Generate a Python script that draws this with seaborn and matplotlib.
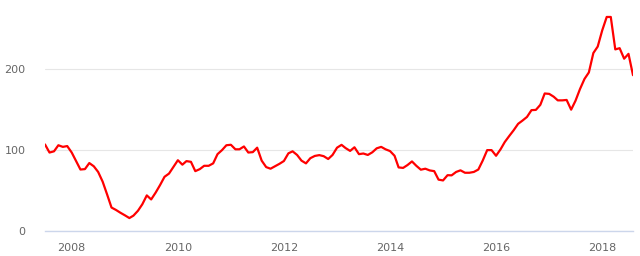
import matplotlib
matplotlib.use("Agg")
import matplotlib.pyplot as plt
import matplotlib.dates as mdates
import seaborn as sns
import pandas as pd

start_month = "2007-07-01"
values = [
    107, 97, 98.5, 106, 104, 105, 97, 86, 76, 76.5, 84, 80, 73, 61, 45, 29, 26, 22.6, 19.4, 16,
    19, 25, 33, 44, 39, 47.5, 57, 67, 71, 79, 87.5, 82, 86.4, 85.5, 74, 76.5, 80.6, 80.6, 83.6, 95,
    100, 106, 106.6, 101, 101, 104.5, 97, 97.5, 103, 87, 79, 77, 80, 83, 86.5, 96, 98.5, 94, 87, 83.6,
    90, 92.8, 93.8, 92.5, 89, 94, 103, 106.5, 102.5, 99, 103.5, 95, 95.8, 94, 97.3, 102.2, 104, 101, 98.8, 93,
    78.6, 78, 81.5, 86, 80.6, 75.8, 77, 74.9, 74, 63.5, 62.5, 69, 68.8, 73, 75, 72, 72, 73, 76, 87,
    100, 100, 93, 101, 110, 117.5, 124.5, 132.5, 136.5, 141, 149.4, 149.7, 156, 170, 169.5, 166, 161.5, 161.5, 162, 150,
    161, 175.5, 188, 196, 220, 228, 248, 264.6, 264.6, 224.5, 226, 213, 219, 192.6,
]
y_ticks = [0, 100, 200]
x_tick_years = [2008, 2010, 2012, 2014, 2016, 2018]

dates = pd.date_range(start_month, periods=len(values), freq="MS")
df = pd.DataFrame({"date": dates, "value": values})

sns.set_style("white")
fig = plt.figure(figsize=(6.4, 2.56), dpi=100)
ax = fig.add_axes([45 / 640, 1 - 231 / 256, 588 / 640, 226.5 / 256])

sns.lineplot(data=df, x="date", y="value", ax=ax, color="#ff0000", linewidth=1.6)

ax.set_xlim(dates[0], dates[-1])
ax.set_ylim(0, 280)
ax.set_yticks(y_ticks)
ax.set_yticklabels([str(v) for v in y_ticks])
ax.set_xticks([pd.Timestamp(f"{y}-01-01") for y in x_tick_years])
ax.xaxis.set_major_formatter(mdates.DateFormatter("%Y"))
ax.set_xlabel("")
ax.set_ylabel("")

ax.grid(axis="y", color="#e6e6e6", linewidth=0.8)
ax.grid(axis="x", visible=False)
ax.set_axisbelow(True)
for s in ["top", "right", "left"]:
    ax.spines[s].set_visible(False)
ax.spines["bottom"].set_color("#ccd6eb")
ax.spines["bottom"].set_linewidth(1)

ax.tick_params(axis="y", length=0, pad=14, labelsize=8, labelcolor="#666666")
ax.tick_params(axis="x", length=7, width=0.8, color="#ccd6eb", pad=1.5,
               labelsize=8, labelcolor="#666666", direction="out")

fig.savefig("out.png", dpi=100)
